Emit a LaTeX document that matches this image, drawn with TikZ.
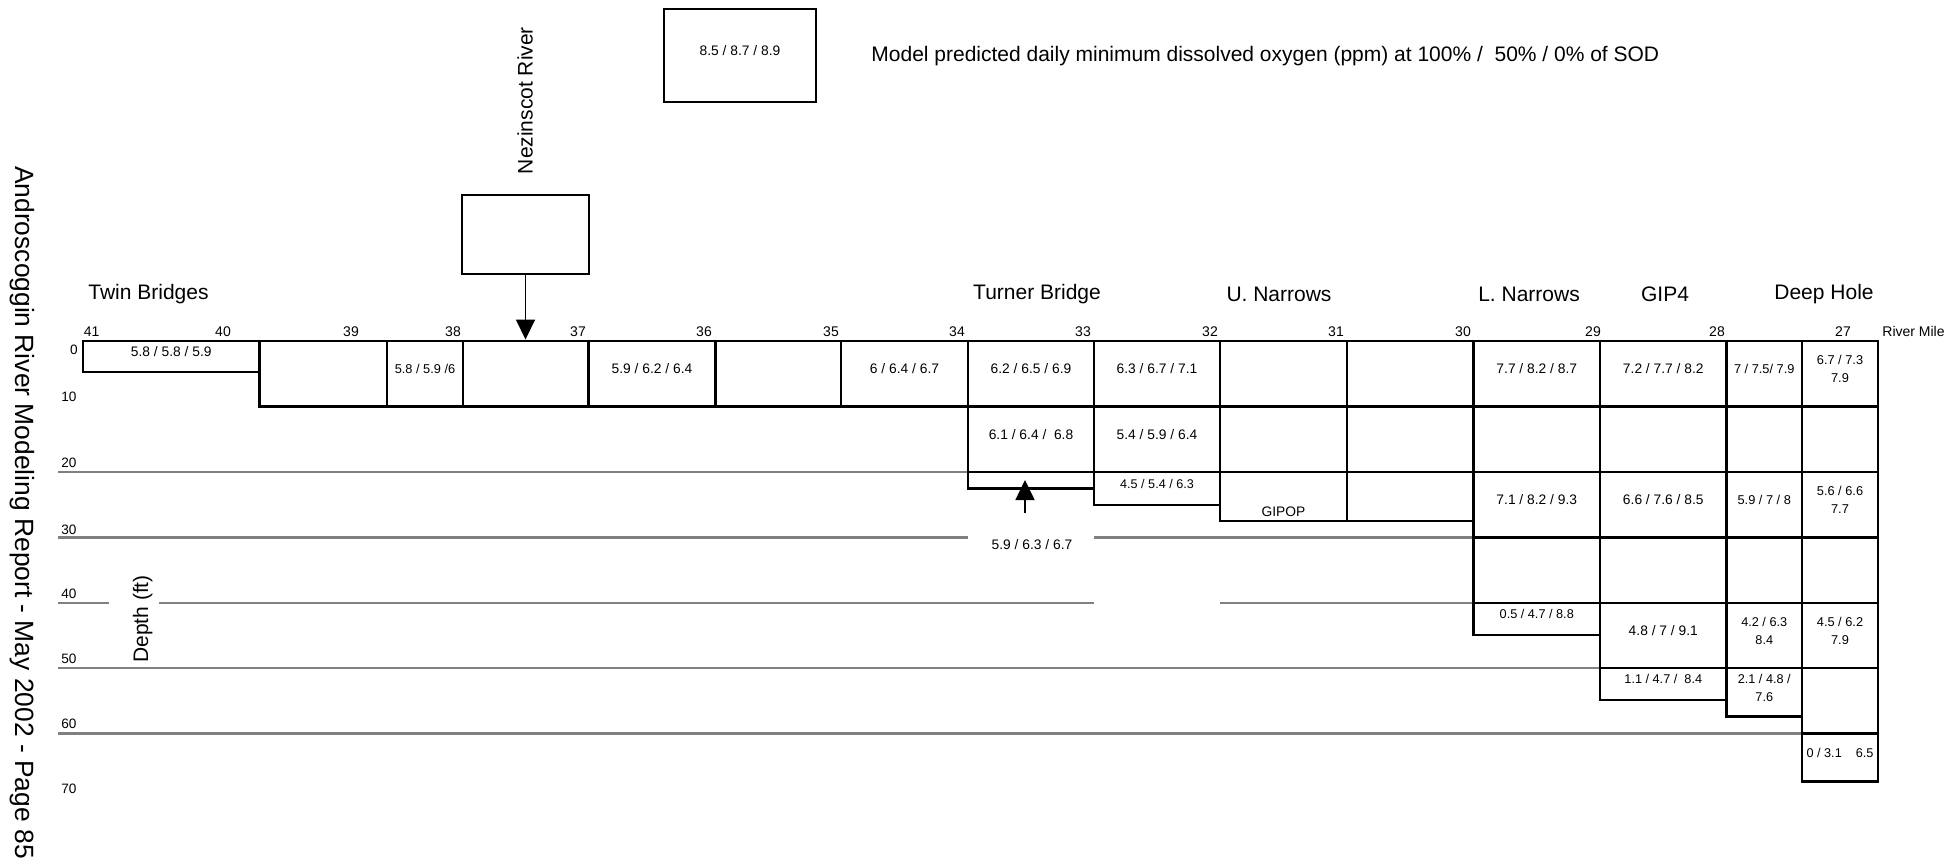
\documentclass[tikz,border=0pt]{standalone}
\usepackage{fontspec}
\setmainfont{Liberation Sans}
\usetikzlibrary{arrows.meta,fit}
\begin{document}
\begin{tikzpicture}[x=0.5pt,y=-0.5pt,
  cellbox/.style={draw=black, fill=white, line width=1.45pt, inner sep=0pt, align=center, font=\fontsize{6.9}{8.85}\selectfont},
  grayline/.style={draw=black!50, line width=1.1pt},
  milelab/.style={font=\fontsize{7}{8}\selectfont, inner sep=0pt},
  depthlab/.style={font=\fontsize{6.8}{8}\selectfont, inner sep=0pt},
  station/.style={font=\fontsize{10.5}{12}\selectfont, inner sep=0pt},
  arrowline/.style={line width=0.8pt, -{Triangle[width=9.5pt,length=10pt]}}
]
\useasboundingbox (0,0) rectangle (1948,864);
\newcommand\cellnode[6]{\node[cellbox,fit={(#2,#3)(#4,#5)}] (#1) {#6};}

% gray depth lines
\draw[grayline] (58,472) -- (968,472);
\draw[grayline] (58,537.5) -- (968,537.5);
\draw[grayline] (1094,537.5) -- (1473.5,537.5);
\draw[grayline] (58,603) -- (109,603);
\draw[grayline] (159,603) -- (1094,603);
\draw[grayline] (1220,603) -- (1473.5,603);
\draw[grayline] (58,668) -- (1600,668);
\draw[grayline] (58,733.5) -- (1802,733.5);

% depth labels
\node[depthlab, anchor=east] (d0) at (78,350) {0};
\node[depthlab, anchor=west] (d10) at (61,397) {10};
\node[depthlab, anchor=west] (d20) at (61,463) {20};
\node[depthlab, anchor=west] (d30) at (61,530) {30};
\node[depthlab, anchor=west] (d40) at (61,594) {40};
\node[depthlab, anchor=west] (d50) at (61,659) {50};
\node[depthlab, anchor=west] (d60) at (61,724) {60};
\node[depthlab, anchor=west] (d70) at (61,789) {70};
\node[station, rotate=90] (depthtitle) at (142.7,619) {Depth (ft)};

% title
\node[rotate=-90, font=\fontsize{13.2}{15}\selectfont, inner sep=0pt] (title) at (22,512.5) {Androscoggin River Modeling Report - May 2002 - Page 85};

% mile labels
\foreach \m/\xx in {41/91.7,40/223,39/351,38/453,37/578,36/704,35/831,34/957,33/1083,32/1210,31/1336,30/1463,29/1593,28/1717,27/1843}
  \node[milelab] (mile\m) at (\xx,331.7) {\m};
\node[milelab, anchor=west] (rivermile) at (1882,331.7) {River Mile};

% station labels
\node[station, anchor=west] (twin) at (88,294.4) {Twin Bridges};
\node[station] (turner) at (1037,294.4) {Turner Bridge};
\node[station] (unar) at (1279,294.4) {U. Narrows};
\node[station] (lnar) at (1529,294.4) {L. Narrows};
\node[station] (gip4) at (1665,294.4) {GIP4};
\node[station] (deep) at (1824,294.4) {Deep Hole};

% legend
\node[cellbox, fit={(664,9)(816,102)}] (legbox) {8.5 / 8.7 / 8.9};
\node[station, anchor=west] (legtext) at (871,56) {Model predicted daily minimum dissolved oxygen (ppm) at 100\% /\ \ 50\% / 0\% of SOD};

% row 0-10
\cellnode{k1}{83}{341}{259.5}{372}{5.8 / 5.8 / 5.9}
\cellnode{k2}{259.5}{341}{387}{406.5}{}
\cellnode{k3}{387}{341}{463}{406.5}{\fontsize{6.4}{8.85}\selectfont 5.8 / 5.9 /6}
\cellnode{k4}{463}{341}{588.5}{406.5}{}
\cellnode{k5}{588.5}{341}{715.5}{406.5}{5.9 / 6.2 / 6.4}
\cellnode{k6}{715.5}{341}{841}{406.5}{}
\cellnode{k7}{841}{341}{968}{406.5}{6 / 6.4 / 6.7}
\cellnode{k8}{968}{341}{1094}{406.5}{6.2 / 6.5 / 6.9}
\cellnode{k9}{1094}{341}{1220}{406.5}{6.3 / 6.7 / 7.1}
\cellnode{k10}{1220}{341}{1347}{406.5}{}
\cellnode{k11}{1347}{341}{1473.5}{406.5}{}
\cellnode{k12}{1473.5}{341}{1600}{406.5}{7.7 / 8.2 / 8.7}
\cellnode{k13}{1600}{341}{1726.5}{406.5}{7.2 / 7.7 / 8.2}
\cellnode{k14}{1726.5}{341}{1802}{406.5}{\fontsize{6.4}{8.85}\selectfont 7 / 7.5/ 7.9}
\cellnode{k15}{1802}{341}{1878}{406.5}{\fontsize{6.4}{8.85}\selectfont 6.7 / 7.3\\7.9}

% row 10-20
\cellnode{m8}{968}{406.5}{1094}{472}{6.1 / 6.4 /\ \ 6.8}
\cellnode{m9}{1094}{406.5}{1220}{472}{5.4 / 5.9 / 6.4}
\cellnode{m10}{1220}{406.5}{1347}{472}{}
\cellnode{m11}{1347}{406.5}{1473.5}{472}{}
\cellnode{m12}{1473.5}{406.5}{1600}{472}{}
\cellnode{m13}{1600}{406.5}{1726.5}{472}{}
\cellnode{m14}{1726.5}{406.5}{1802}{472}{}
\cellnode{m15}{1802}{406.5}{1878}{472}{}

% row 20-30
\cellnode{n8}{968}{472}{1094}{488.3}{}
\cellnode{n9}{1094}{472}{1220}{505}{\fontsize{6.3}{8.85}\selectfont 4.5 / 5.4 / 6.3}
\cellnode{n10}{1220}{472}{1347}{521}{}
\cellnode{n11}{1347}{472}{1473.5}{521}{}
\cellnode{n12}{1473.5}{472}{1600}{537.5}{7.1 / 8.2 / 9.3}
\cellnode{n13}{1600}{472}{1726.5}{537.5}{6.6 / 7.6 / 8.5}
\cellnode{n14}{1726.5}{472}{1802}{537.5}{\fontsize{6.4}{8.85}\selectfont 5.9 / 7 / 8}
\cellnode{n15}{1802}{472}{1878}{537.5}{\fontsize{6.4}{8.85}\selectfont 5.6 / 6.6\\7.7}
\node[font=\fontsize{6.9}{8}\selectfont, inner sep=0pt] (gipop) at (1283.5,511.7) {GIPOP};

% row 30-40
\cellnode{p12}{1473.5}{537.5}{1600}{603}{}
\cellnode{p13}{1600}{537.5}{1726.5}{603}{}
\cellnode{p14}{1726.5}{537.5}{1802}{603}{}
\cellnode{p15}{1802}{537.5}{1878}{603}{}

% row 40-50
\cellnode{q12}{1473.5}{603}{1600}{635}{\fontsize{6.35}{8.85}\selectfont 0.5 / 4.7 / 8.8}
\cellnode{q13}{1600}{603}{1726.5}{668}{4.8 / 7 / 9.1}
\cellnode{q14}{1726.5}{603}{1802}{668}{\fontsize{6.35}{8.85}\selectfont 4.2 / 6.3\\8.4}
\cellnode{q15}{1802}{603}{1878}{668}{\fontsize{6.4}{8.85}\selectfont 4.5 / 6.2\\7.9}

% row 50-60
\cellnode{s13}{1600}{668}{1726.5}{700}{\fontsize{6.35}{8.85}\selectfont 1.1 / 4.7 /\ \ 8.4}
\cellnode{s14}{1726.5}{668}{1802}{716.7}{\fontsize{6.35}{8.85}\selectfont 2.1 / 4.8 /\\7.6}
\cellnode{s15}{1802}{668}{1878}{733.5}{}

% row 60-70
\cellnode{t15}{1802}{733.5}{1878}{781.7}{\fontsize{6.35}{8.85}\selectfont 0 / 3.1\hspace{7pt}6.5}

% Nezinscot tributary
\node[cellbox, fit={(462,195)(589,274)}] (nez) {};
\node[station, rotate=90] (nezlab) at (525,100.5) {Nezinscot River};
\draw[arrowline] (nez.south) -- (k4.north -| nez.south);

% bottom inflow arrow
\coordinate (upbase) at (1025,513.3);
\coordinate (uptip) at (1025,480);
\draw[arrowline] (upbase) -- (uptip);
\node[font=\fontsize{6.9}{8}\selectfont, inner sep=0pt] (botlab) at (1032,545) {5.9 / 6.3 / 6.7};
\end{tikzpicture}
\end{document}
